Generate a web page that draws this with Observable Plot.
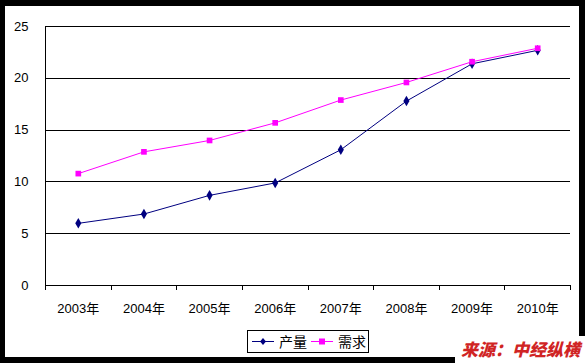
<!DOCTYPE html>
<html><head><meta charset="utf-8">
<script src="https://cdn.jsdelivr.net/npm/d3@7"></script>
<script src="https://cdn.jsdelivr.net/npm/@observablehq/plot@0.6"></script>
<style>
body{margin:0;background:#fff;}
#wrap{position:relative;width:585px;height:363px;background:#000;overflow:hidden;}
#paper{position:absolute;left:5px;top:6px;width:574px;height:351px;background:#fff;}
#chart{position:absolute;left:0;top:0;}
#chart svg{background:transparent;overflow:visible;}
#legend{position:absolute;left:247px;top:330px;width:120px;height:21px;border:1px solid #000;background:#fff;font-family:"Noto Sans CJK SC",sans-serif;font-size:14px;}
#legend svg{position:absolute;left:0;top:0;}
#legend span{position:absolute;top:0;line-height:21px;}
#src{position:absolute;left:455px;top:336px;width:130px;height:27px;background:#fff;}
#src span{position:absolute;left:6px;top:2px;line-height:22px;font-family:"Noto Sans CJK SC",sans-serif;font-weight:900;font-style:italic;font-size:17px;color:#D02424;white-space:nowrap;}
</style></head>
<body>
<div id="wrap"><div id="paper"></div><div id="chart"></div>
<div id="legend"></div>
<div id="src"><span>来源：中经纵横</span></div>
</div>
<script>
const years = ["2003年","2004年","2005年","2006年","2007年","2008年","2009年","2010年"];
const seriesNames = ["产量","需求"];
const colors = ["#000080","#FF00FF"];
const production = [6.0, 6.9, 8.7, 9.9, 13.1, 17.8, 21.4, 22.7];
const demand = [10.8, 12.9, 14.0, 15.7, 17.9, 19.6, 21.6, 22.9];
const yTicks = [0,5,10,15,20,25];

const rows = [];
years.forEach((y,i)=>{ rows.push({year:y, xi:i+0.5, value:production[i], series:seriesNames[0]}); });
years.forEach((y,i)=>{ rows.push({year:y, xi:i+0.5, value:demand[i], series:seriesNames[1]}); });
const prodRows = rows.filter(d=>d.series===seriesNames[0]);
const demRows = rows.filter(d=>d.series===seriesNames[1]);

const font = '"Liberation Sans","Noto Sans CJK SC",sans-serif';
const crisp = {shapeRendering:"crispEdges"};
const chart = Plot.plot({
  width:585, height:363,
  marginLeft:45, marginRight:15, marginTop:26, marginBottom:78,
  style:{fontFamily:font, fontSize:"13px", color:"#000", background:"transparent"},
  x:{type:"linear", domain:[0, years.length], axis:null},
  y:{domain:[0,25], axis:null},
  marks:[
    Plot.ruleY(yTicks.slice(1), {stroke:"#000", strokeWidth:1, ...crisp}),
    Plot.ruleY([0], {stroke:"#000", strokeWidth:1, ...crisp}),
    Plot.ruleX([0], {stroke:"#000", strokeWidth:1, ...crisp}),
    Plot.axisY(yTicks, {tickSize:0, tickPadding:17, label:null, fontSize:13}),
    Plot.axisX(d3.range(0, years.length+1), {tickSize:5, text:null, label:null, stroke:"#000", ...crisp}),
    Plot.axisX(years.map((d,i)=>i+0.5), {tickSize:0, tickPadding:18, label:null, fontSize:13, tickFormat:v=>years[Math.floor(v)]}),
    Plot.line(prodRows, {x:"xi", y:"value", stroke:colors[0], strokeWidth:1}),
    Plot.dot(prodRows, {x:"xi", y:"value", symbol:"diamond", r:3.2, fill:colors[0], stroke:null}),
    Plot.line(demRows, {x:"xi", y:"value", stroke:colors[1], strokeWidth:1}),
    Plot.dot(demRows, {x:"xi", y:"value", symbol:"square", r:3.2, fill:colors[1], stroke:null})
  ]
});
document.getElementById("chart").appendChild(chart);

const lg = document.getElementById("legend");
lg.innerHTML = `<svg width="120" height="21">
<line x1="4" x2="26" y1="10.5" y2="10.5" stroke="${colors[0]}" stroke-width="1"/>
<path d="M15,7 L18,10.5 L15,14 L12,10.5Z" fill="${colors[0]}"/>
<line x1="63" x2="85" y1="10.5" y2="10.5" stroke="${colors[1]}" stroke-width="1"/>
<rect x="71" y="7.5" width="6" height="6" fill="${colors[1]}"/>
</svg><span style="left:31px">${seriesNames[0]}</span><span style="left:90px">${seriesNames[1]}</span>`;
</script>
</body></html>
